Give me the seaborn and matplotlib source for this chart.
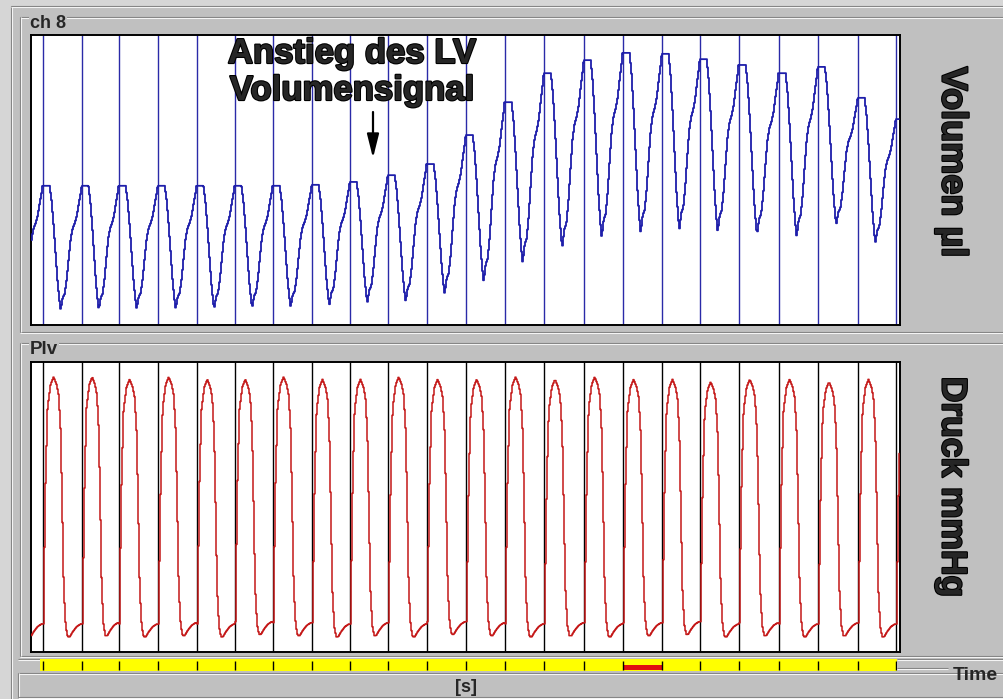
import numpy as np
import pandas as pd
import matplotlib
matplotlib.use("Agg")
import matplotlib.pyplot as plt
import matplotlib.patheffects as pe
from matplotlib.patches import Rectangle
import seaborn as sns

# ---------------------------------------------------------------- data
# beat markers (ms)
beat_ms = [30, 128, 220, 318, 415, 510, 605, 703, 798, 893, 990, 1088,
           1185, 1283, 1383, 1480, 1578, 1673, 1770, 1870, 1968, 2068, 2163]

# LV volume: systolic peak at each beat and the trough preceding each beat (µl)
vol_peak = [38.8, 38.8, 38.8, 38.8, 38.8, 38.8, 38.8, 39.0, 39.6, 41.0, 43.3, 49.3,
            56.1, 62.1, 64.8, 66.3, 66.1, 65.0, 63.8, 62.1, 63.4, 57.0, 52.6]
vol_trough = [13.1, 13.1, 13.1, 13.3, 13.3, 13.3, 13.5, 13.7, 14.1, 14.6, 14.8, 16.4,
              18.9, 22.8, 25.9, 28.0, 29.0, 29.7, 29.2, 28.6, 28.2, 30.7, 27.0]

# LV pressure: peak and diastolic minimum of each beat (mmHg)
p_peak = [108, 108, 107, 108, 107, 107, 108, 107, 107, 108, 107, 107,
          108, 107, 108, 107, 107, 106, 107, 107, 106, 107, 107]
p_min = [3.0, 3.5, 3.0, 3.5, 3.0, 4.0, 3.5, 3.0, 3.5, 3.0, 4.0, 3.5,
         3.0, 3.5, 3.0, 3.5, 4.0, 3.0, 3.5, 3.0, 3.5, 3.0, 3.5]

# beat waveform shapes (phase within beat interval -> fraction of amplitude)
vol_fall_phase = [0.0, 0.155, 0.206, 0.258, 0.309, 0.361, 0.412, 0.438]
vol_fall_frac = [1.0, 1.0, 0.88, 0.68, 0.45, 0.22, 0.06, 0.0]
vol_rise_phase = [0.438, 0.49, 0.541, 0.593, 0.644, 0.696, 0.747, 0.799, 0.851, 0.902, 0.954, 0.975, 1.0]
vol_rise_frac = [0.0, 0.10, 0.13, 0.25, 0.42, 0.58, 0.66, 0.70, 0.76, 0.86, 0.95, 1.0, 1.0]
p_phase = [0.0, 0.026, 0.052, 0.103, 0.180, 0.258, 0.335, 0.387, 0.438, 0.490,
           0.515, 0.567, 0.619, 0.670, 0.747, 0.851, 0.954, 1.0]
p_frac = [0.05, 0.35, 0.60, 0.88, 0.97, 1.0, 0.97, 0.93, 0.79, 0.40,
          0.19, 0.04, 0.0, 0.0, 0.02, 0.04, 0.05, 0.05]

marked_beat = 15          # beat highlighted on the time bar
t_end = 2170              # end of recording window (ms)
dt = 2.5                  # sample interval (ms)

# ---------------------------------------------------------------- traces
beats = np.asarray(beat_ms, float)
n = len(beats)
period = np.diff(beats).mean()
t = np.arange(0.0, t_end + 0.1, dt)
idx = np.searchsorted(beats, t, side="right") - 1
i0 = np.clip(idx, 0, n - 1)
i1 = np.clip(idx + 1, 0, n - 1)
start = np.where(idx >= 0, beats[i0], beats[0] - period)
stop = np.where((idx >= 0) & (idx + 1 < n), beats[i1], start + period)
phase = (t - start) / (stop - start)

vp = np.asarray(vol_peak)
vt = np.asarray(vol_trough)
trough = np.where(idx >= 0, vt[i1], vt[0])
falling = (phase <= vol_fall_phase[-1]) & (idx >= 0)
vol = np.where(
    falling,
    trough + (vp[i0] - trough) * np.interp(phase, vol_fall_phase, vol_fall_frac),
    trough + (vp[i1] - trough) * np.interp(phase, vol_rise_phase, vol_rise_frac),
)

pp = np.asarray(p_peak, float)
pm = np.asarray(p_min, float)
press = pm[i0] + (pp[i0] - pm[i0]) * np.interp(phase, p_phase, p_frac)

vol_df = pd.DataFrame({"Zeit (ms)": t, "Volumen (µl)": vol})
p_df = pd.DataFrame({"Zeit (ms)": t, "Druck (mmHg)": press})

# ---------------------------------------------------------------- figure
W, H = 1004, 699
sns.set_theme(style="white")
plt.rcParams["font.family"] = ["Liberation Sans", "DejaVu Sans"]
GRAY = "#c0c0c0"
fig = plt.figure(figsize=(W / 100, H / 100), dpi=100, facecolor=GRAY)


def px_axes(x0, y0, x1, y1, **kw):
    return fig.add_axes([x0 / W, 1 - y1 / H, (x1 - x0) / W, (y1 - y0) / H], **kw)


# window chrome in pixel coordinates
bg = px_axes(0, 0, W, H)
bg.set_xlim(0, W)
bg.set_ylim(H, 0)
bg.axis("off")
bg.set_zorder(-5)
bg.add_patch(Rectangle((0, 0), 11, H, color="#d6d6d6", lw=0))
bg.add_patch(Rectangle((0, 0), W, 6, color="#d6d6d6", lw=0))
DARK, LIGHT = "#808080", "#f4f4f4"


def etched_h(y, x0, x1):
    bg.plot([x0, x1], [y, y], color=DARK, lw=0.8, solid_capstyle="butt")
    bg.plot([x0, x1], [y + 1.2, y + 1.2], color=LIGHT, lw=0.8, solid_capstyle="butt")


def etched_v(x, y0, y1):
    bg.plot([x, x], [y0, y1], color=DARK, lw=0.8, solid_capstyle="butt")
    bg.plot([x + 1.2, x + 1.2], [y0, y1], color=LIGHT, lw=0.8, solid_capstyle="butt")


etched_v(11, 6, H)
etched_h(6, 11, W)
for top, bot in [(17, 332), (343, 656)]:
    etched_h(top, 20, W)
    etched_h(bot, 20, W)
    etched_v(20, top, bot)
etched_h(659, 18, 40)
etched_h(659, 897, W)
etched_h(668, 897, 948)
etched_h(673, 18, W)
etched_v(18, 673, H)
etched_h(697, 18, W)

# signal panels
ax_v = px_axes(31, 35, 900, 325)
ax_p = px_axes(31, 362, 900, 652)
BLUE, RED = "#1e1eaa", "#c41818"

for ax, color in [(ax_v, "#2a2aa8"), (ax_p, "black")]:
    ax.set_facecolor("white")
    for b in beat_ms:
        ax.axvline(b, color=color, lw=1.0, zorder=1)

sns.lineplot(data=vol_df, x="Zeit (ms)", y="Volumen (µl)", ax=ax_v, color=BLUE,
             lw=1.3, drawstyle="steps-post", estimator=None, zorder=3)
sns.lineplot(data=p_df, x="Zeit (ms)", y="Druck (mmHg)", ax=ax_p, color=RED,
             lw=1.1, drawstyle="steps-post", estimator=None, zorder=3)

ax_v.set_ylim(10, 70)
ax_p.set_ylim(-3.1, 114.0)
for ax in (ax_v, ax_p):
    ax.set_xlim(0, 2172.5)
    ax.set(xlabel="", ylabel="", xticks=[], yticks=[])
    for s in ax.spines.values():
        s.set_color("black")
        s.set_linewidth(1.4)
        s.set_visible(True)

# time bar
ax_t = px_axes(40, 659, 897, 671)
ax_t.set_facecolor("#ffff00")
ax_t.set_xlim(22.5, 2165)
ax_t.set_ylim(0, 1)
ax_t.set(xticks=[], yticks=[])
for s in ax_t.spines.values():
    s.set_visible(False)
ax_t.vlines(beat_ms, 0.1, 0.8, color="black", lw=1.0)
ax_t.add_patch(Rectangle((beat_ms[marked_beat], 0.08),
                         beat_ms[marked_beat + 1] - beat_ms[marked_beat], 0.42,
                         color="#e01010", lw=0))


# texts
def ptext(x, y, s, **kw):
    return fig.text(x / W, 1 - y / H, s, **kw)


heavy = [pe.withStroke(linewidth=1.6, foreground="black")]
ptext(30, 24, "ch 8", fontsize=13, fontweight="bold", va="center", ha="left",
      bbox=dict(fc=GRAY, ec="none", pad=0.5))
ptext(30, 350, "Plv", fontsize=13.5, fontweight="bold", va="center", ha="left",
      bbox=dict(fc=GRAY, ec="none", pad=0.5))
ptext(352, 63, "Anstieg des LV", fontsize=25, fontweight="bold", ha="center",
      va="baseline", path_effects=heavy)
ptext(352, 100, "Volumensignal", fontsize=25, fontweight="bold", ha="center",
      va="baseline", path_effects=heavy)
ptext(952, 162, "Volumen µl", fontsize=26, fontweight="bold", rotation=270,
      ha="center", va="center", path_effects=heavy)
ptext(952, 487, "Druck mmHg", fontsize=25.5, fontweight="bold", rotation=270,
      ha="center", va="center", path_effects=heavy)
ptext(975, 676, "Time", fontsize=14, fontweight="bold", ha="center", va="center")
ptext(466, 688, "[s]", fontsize=13, fontweight="bold", ha="center", va="center")

ax_v.annotate("", xy=(373, H - 158), xytext=(373, H - 112),
              xycoords="figure pixels", textcoords="figure pixels",
              arrowprops=dict(arrowstyle="-|>,head_length=1.2,head_width=0.3",
                              mutation_scale=12, lw=1.6, color="black",
                              shrinkA=0, shrinkB=0))

fig.savefig("out.png", dpi=100, facecolor=GRAY)
